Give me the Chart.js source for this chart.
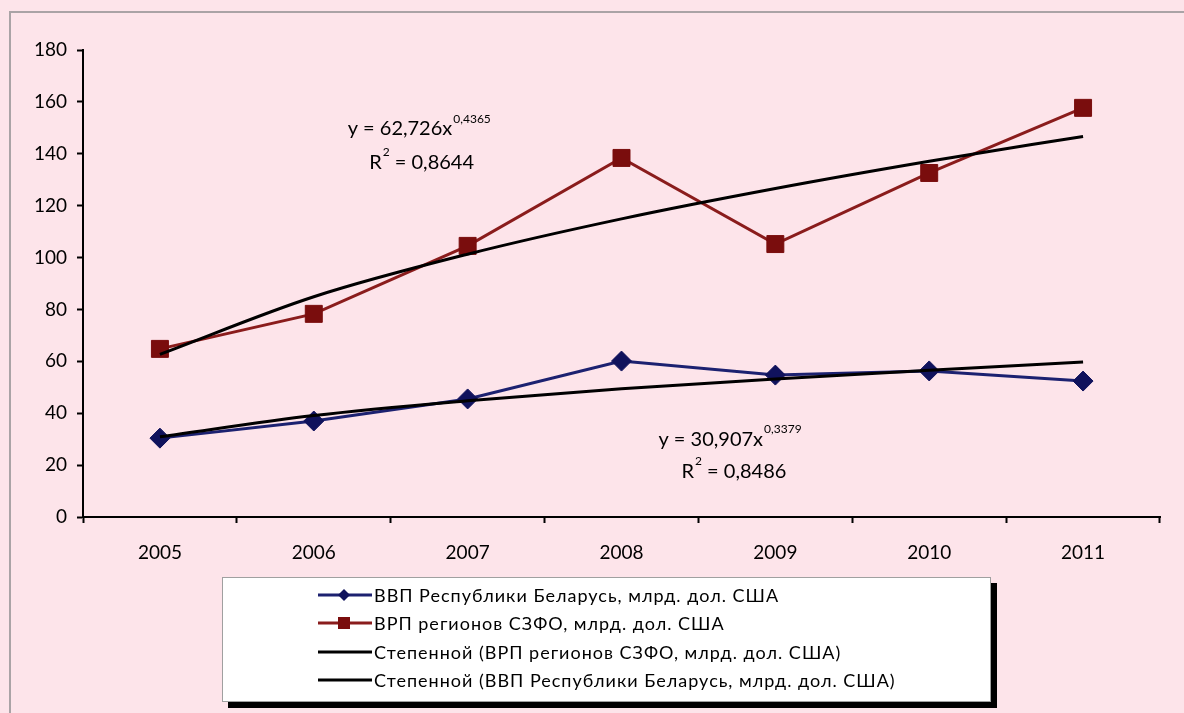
<!DOCTYPE html>
<html><head><meta charset="utf-8">
<script src="https://cdn.jsdelivr.net/npm/chart.js@4"></script>
<style>
html,body{margin:0;padding:0;background:#fde4ea;overflow:hidden;}
#wrap{position:relative;width:1184px;height:713px;}
#frame{position:absolute;left:9px;top:11px;width:1300px;height:800px;border:2px solid #aaa3a6;box-sizing:border-box;}
#cwrap{position:absolute;left:0;top:0;width:1184px;height:713px;}
#legend{position:absolute;left:222px;top:577px;width:769px;height:125px;background:#fff;border:1px solid #a0a0a0;box-shadow:6px 6px 0 #000;box-sizing:border-box;font-family:Lato,sans-serif;font-size:18px;letter-spacing:1px;color:#000;}
.item{position:absolute;left:94px;height:24px;display:flex;align-items:center;white-space:nowrap;}
.item svg{margin-right:1px;}
</style></head>
<body><div id="wrap"><div id="frame"></div><div id="cwrap"><canvas id="c"></canvas></div><div id="legend"></div></div>
<script>
const years = ['2005','2006','2007','2008','2009','2010','2011'];
const gdpBelarus = [30.4, 37.0, 45.5, 60.1, 54.7, 56.3, 52.4];
const grpNWFD = [64.8, 78.3, 104.5, 138.4, 105.2, 132.6, 157.7];
const trendNWFD = [62.7, 84.9, 101.3, 114.9, 126.6, 137.1, 146.7];
const trendBelarus = [30.9, 39.1, 44.8, 49.4, 53.2, 56.6, 59.7];
const yTicks = [0, 20, 40, 60, 80, 100, 120, 140, 160, 180];
const labels = ['ВВП Республики Беларусь, млрд. дол. США','ВРП регионов СЗФО, млрд. дол. США','Степенной (ВРП регионов СЗФО, млрд. дол. США)','Степенной (ВВП Республики Беларусь, млрд. дол. США)'];
const equations = [
  {x: 1.22, y: 149.6, main: 'y = 62,726x', sup: '0,4365'},
  {x: 1.36, y: 136.8, main: 'R', sup: '2', rest: ' = 0,8644'},
  {x: 3.24, y: 29.9, main: 'y = 30,907x', sup: '0,3379'},
  {x: 3.39, y: 17.5, main: 'R', sup: '2', rest: ' = 0,8486'}
];

const BLUE = '#10125c', BLUE_L = '#1c2170', RED = '#7a0d0d', RED_L = '#8a1c1c';

const eqPlugin = {
  id: 'eq',
  afterDatasetsDraw(chart) {
    const ctx = chart.ctx, xs = chart.scales.x, ys = chart.scales.y;
    ctx.save();
    ctx.fillStyle = '#000';
    ctx.textBaseline = 'middle';
    equations.forEach(e => {
      let px = xs.getPixelForValue(e.x), py = ys.getPixelForValue(e.y);
      ctx.font = '20px Lato';
      ctx.fillText(e.main, px, py);
      px += ctx.measureText(e.main).width + 1;
      ctx.font = '12px Lato';
      ctx.fillText(e.sup, px, py - 10);
      px += ctx.measureText(e.sup).width;
      if (e.rest) { ctx.font = '20px Lato'; ctx.fillText(e.rest, px, py); }
    });
    ctx.restore();
  }
};

const chart = new Chart(document.getElementById('c'), {
  type: 'line',
  data: {
    labels: years,
    datasets: [
      {label: labels[0], data: gdpBelarus, borderColor: BLUE_L, backgroundColor: BLUE, pointBackgroundColor: BLUE, pointBorderColor: BLUE, borderWidth: 3, pointStyle: 'rectRot', pointRadius: 10, pointBorderWidth: 1, order: 1},
      {label: labels[1], data: grpNWFD, borderColor: RED_L, backgroundColor: RED, pointBackgroundColor: RED, pointBorderColor: RED, borderWidth: 3, pointStyle: 'rect', pointRadius: 12, pointBorderWidth: 1, order: 1},
      {label: labels[2], data: trendNWFD, borderColor: '#000', borderWidth: 3, pointRadius: 0, cubicInterpolationMode: 'monotone', order: 0},
      {label: labels[3], data: trendBelarus, borderColor: '#000', borderWidth: 3, pointRadius: 0, cubicInterpolationMode: 'monotone', order: 0}
    ]
  },
  options: {
    responsive: true, maintainAspectRatio: false, animation: false,
    layout: {padding: {left: 0, top: 50, right: 24, bottom: 146}},
    plugins: {legend: {display: false}, tooltip: {enabled: false}},
    scales: {
      x: {
        offset: true,
        grid: {offset: true, drawOnChartArea: false, tickLength: 6, tickColor: '#000', tickWidth: 2},
        border: {display: true, color: '#000', width: 2},
        ticks: {color: '#000', font: {family: 'Lato', size: 19}, padding: 18},
        afterFit(s) { s.height = 50; }
      },
      y: {
        min: 0, max: 180,
        afterBuildTicks(s) { s.ticks = yTicks.map(v => ({value: v})); },
        grid: {drawOnChartArea: false, tickLength: 6, tickColor: '#000', tickWidth: 2},
        border: {display: true, color: '#000', width: 2},
        ticks: {color: '#000', font: {family: 'Lato', size: 19}, padding: 10},
        afterFit(s) { s.width = 83; }
      }
    }
  },
  plugins: [eqPlugin]
});

// HTML legend built from the datasets
const legend = document.getElementById('legend');
const rowY = [17, 45, 74, 102];
chart.data.datasets.forEach((ds, i) => {
  const d = document.createElement('div');
  d.className = 'item';
  d.style.top = (rowY[i] - 12) + 'px';
  let marker = '';
  if (ds.pointStyle === 'rectRot') marker = '<polygon points="27,4 33,10 27,16 21,10" fill="' + ds.pointBackgroundColor + '"/>';
  if (ds.pointStyle === 'rect') marker = '<rect x="21" y="4" width="12" height="12" fill="' + ds.pointBackgroundColor + '"/>';
  d.innerHTML = '<svg width="56" height="20"><line x1="1" y1="10" x2="55" y2="10" stroke="' + ds.borderColor + '" stroke-width="3"/>' + marker + '</svg><span>' + ds.label + '</span>';
  legend.appendChild(d);
});
</script>
</body></html>
